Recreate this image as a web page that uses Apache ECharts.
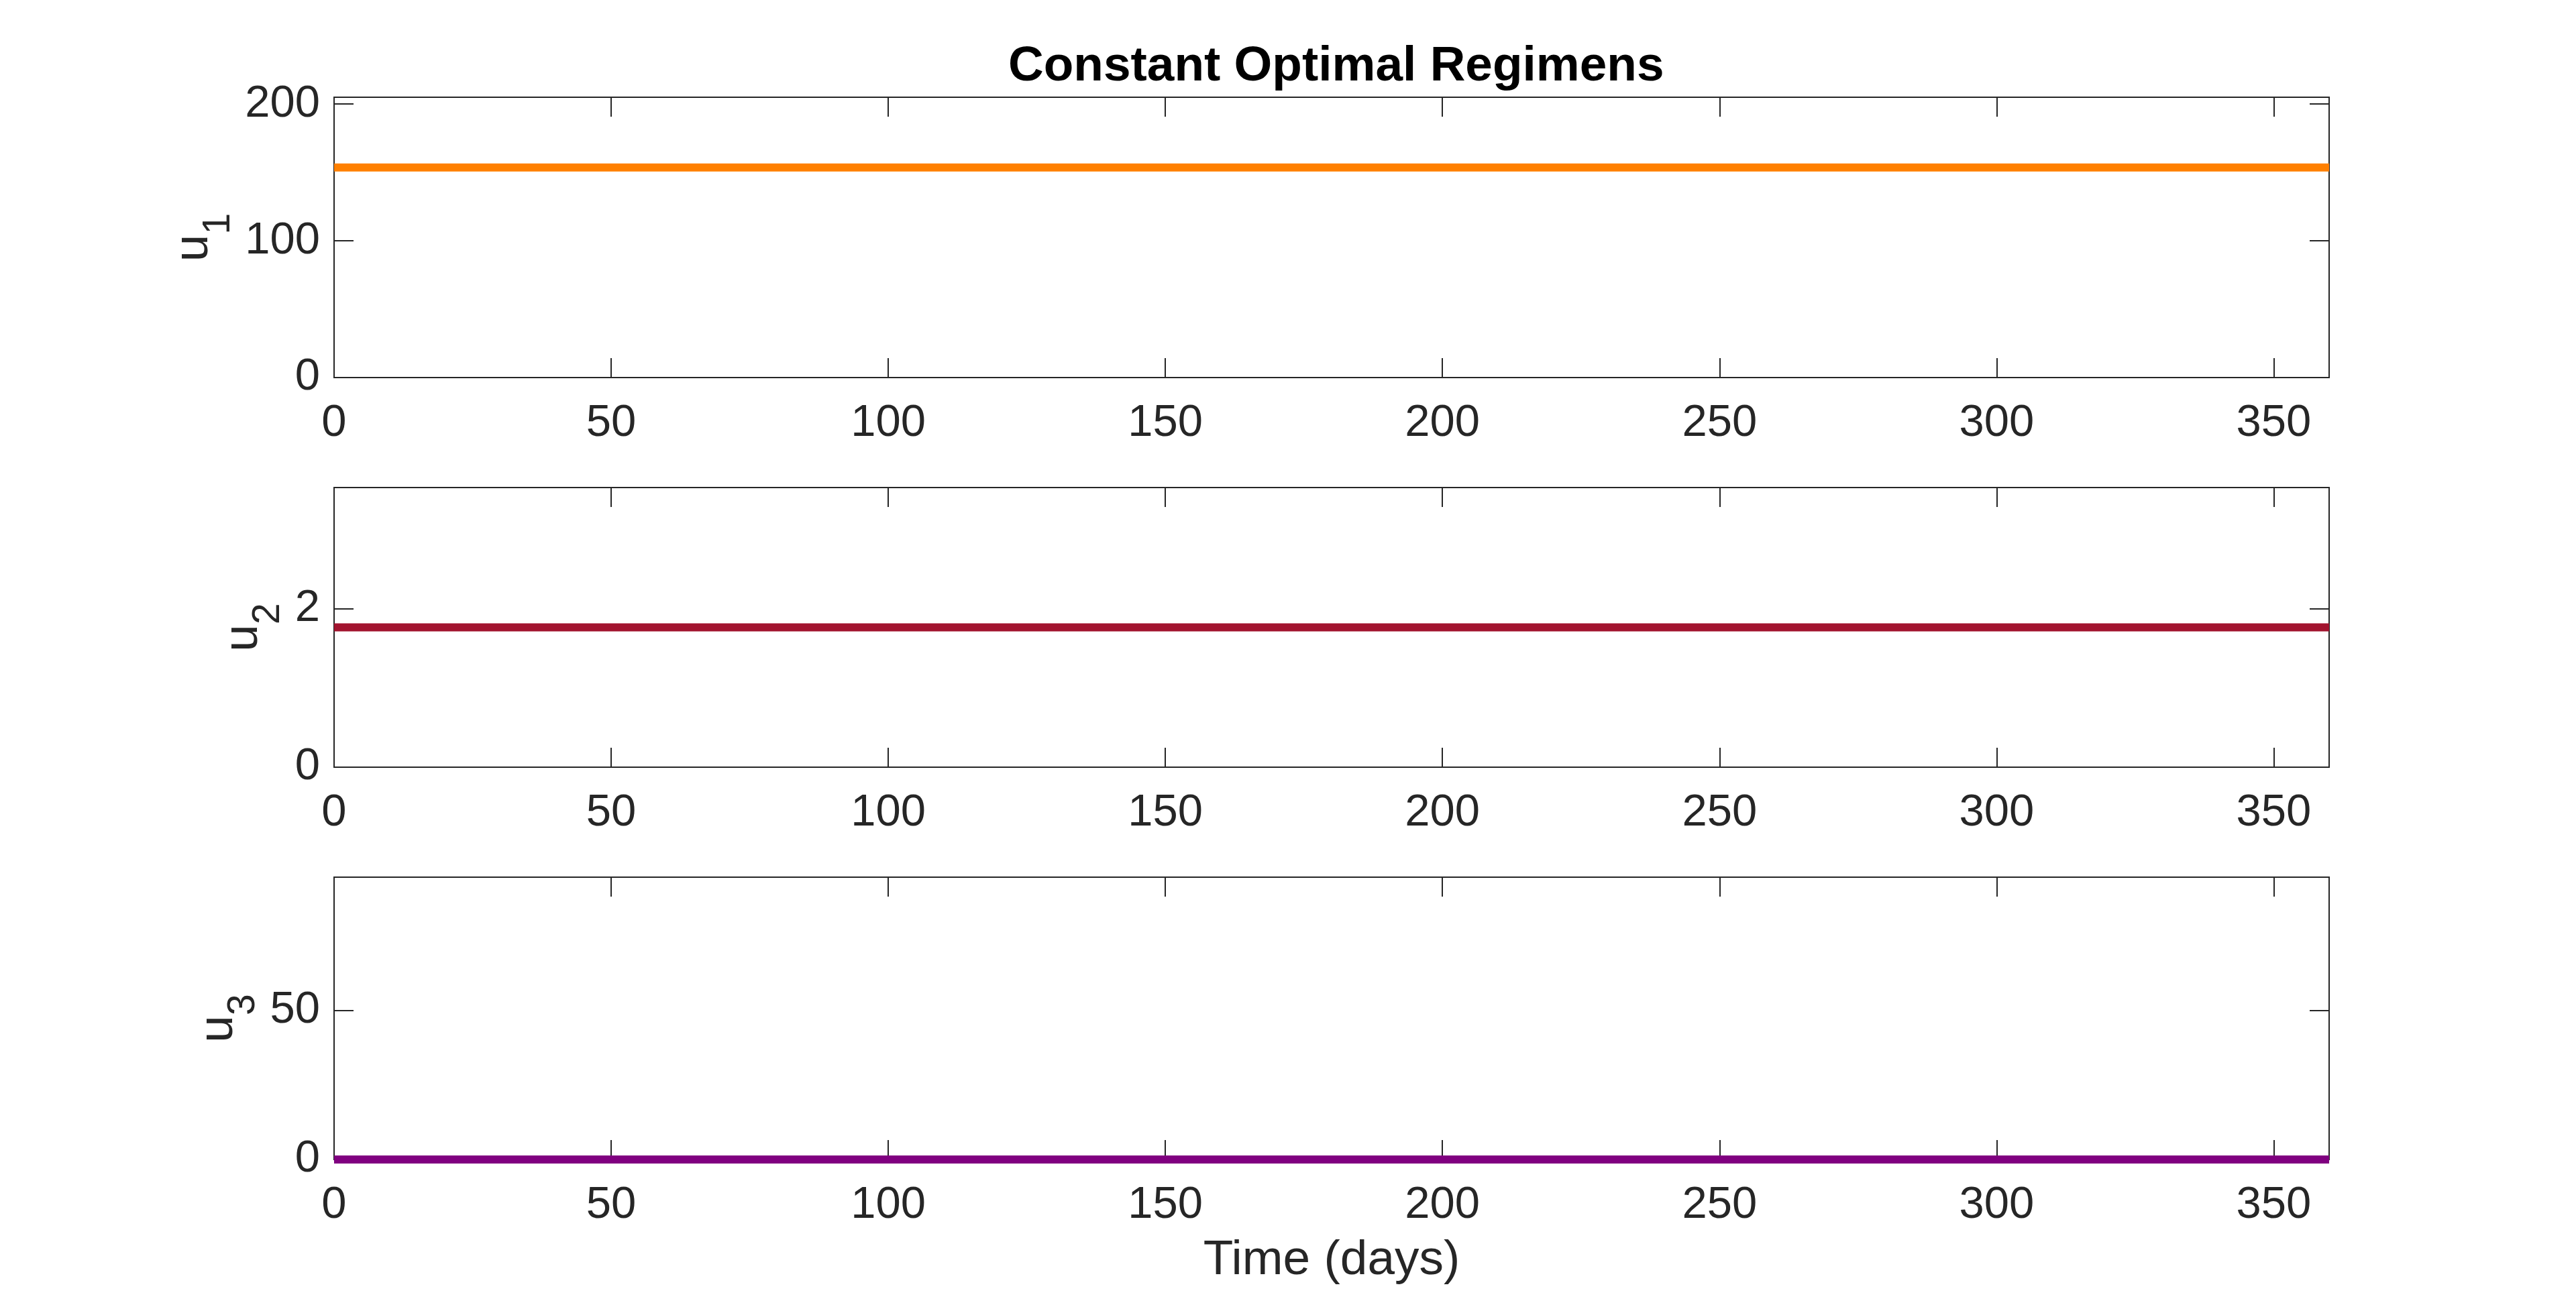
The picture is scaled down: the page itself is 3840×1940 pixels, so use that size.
<!DOCTYPE html>
<html><head><meta charset="utf-8">
<script src="https://cdn.jsdelivr.net/npm/echarts@6/dist/echarts.min.js"></script>
<style>html,body{margin:0;padding:0;background:#fff}#c{width:3840px;height:1940px}</style>
</head><body><div id="c"></div>
<script>
// Data
const days = [0, 360];
const u1 = [153.6, 153.6];
const u2 = [1.765, 1.765];
const u3 = [0, 0];
const xTicks = [0, 50, 100, 150, 200, 250, 300, 350];
const yLabels = ['1', '2', '3'];
const titleText = 'Constant Optimal Regimens';
const xName = 'Time (days)';

const seriesData = [u1, u2, u3];
const colors = ['#FF8000', '#A2142F', '#800080'];
const yMax = [205, 3.53, 94.7];
const yInt = [100, 2, 50];
const tops = [145, 727, 1308];
const heights = [418, 417, 421];
const nameGaps = [140, 64, 100];

const FONT = 'Liberation Sans';
const TXT = '#262626';
const chart = echarts.init(document.getElementById('c'));

const grid = [], xAxis = [], yAxis = [], series = [];
for (let i = 0; i < 3; i++) {
  grid.push({left: 498, right: 368, top: tops[i], height: heights[i], show: true,
    borderColor: TXT, borderWidth: 2, backgroundColor: '#fff'});
  const tick = {show: true, inside: true, length: 29, lineStyle: {color: TXT, width: 2}};
  const noLine = {show: false, onZero: false};
  xAxis.push({type: 'value', gridIndex: i, min: 0, max: 360, interval: 50, position: 'bottom',
    axisLine: noLine, axisTick: tick, splitLine: {show: false},
    axisLabel: {show: true, fontSize: 67, fontFamily: FONT, color: TXT, margin: 35, showMaxLabel: false,
      formatter: v => (xTicks.indexOf(v) >= 0 ? String(v) : '')},
    name: i === 2 ? xName : '', nameLocation: 'middle', nameGap: 114,
    nameTextStyle: {fontSize: 73, fontFamily: FONT, color: TXT}});
  xAxis.push({type: 'value', gridIndex: i, min: 0, max: 360, interval: 50, position: 'top',
    axisLine: noLine, axisTick: tick, splitLine: {show: false}, axisLabel: {show: false}});
  yAxis.push({type: 'value', gridIndex: i, min: 0, max: yMax[i], interval: yInt[i], position: 'left',
    axisLine: noLine, axisTick: tick, splitLine: {show: false},
    axisLabel: {show: true, fontSize: 67, fontFamily: FONT, color: TXT, margin: 21, showMaxLabel: false},
    name: '{u|u}{s|' + yLabels[i] + '}', nameLocation: 'middle', nameRotate: 90, nameGap: nameGaps[i],
    nameTextStyle: {fontFamily: FONT, color: TXT, rich: {
      u: {fontSize: 73, fontFamily: FONT, color: TXT, lineHeight: 73, verticalAlign: 'top'},
      s: {fontSize: 57, fontFamily: FONT, color: TXT, lineHeight: 57, verticalAlign: 'top', padding: [45, 0, 0, 0]}
    }}});
  yAxis.push({type: 'value', gridIndex: i, min: 0, max: yMax[i], interval: yInt[i], position: 'right',
    axisLine: noLine, axisTick: tick, splitLine: {show: false}, axisLabel: {show: false}});
  series.push({type: 'line', xAxisIndex: 2 * i, yAxisIndex: 2 * i, showSymbol: false, silent: true,
    data: days.map((d, k) => [d, seriesData[i][k]]),
    lineStyle: {color: colors[i], width: 12, cap: 'butt'}, animation: false});
}

chart.setOption({
  animation: false,
  backgroundColor: '#fff',
  title: {text: titleText, left: 1498, top: 58,
    textStyle: {fontSize: 73, fontWeight: 'bold', fontFamily: FONT, color: '#000'}},
  grid, xAxis, yAxis, series
});
</script></body></html>
